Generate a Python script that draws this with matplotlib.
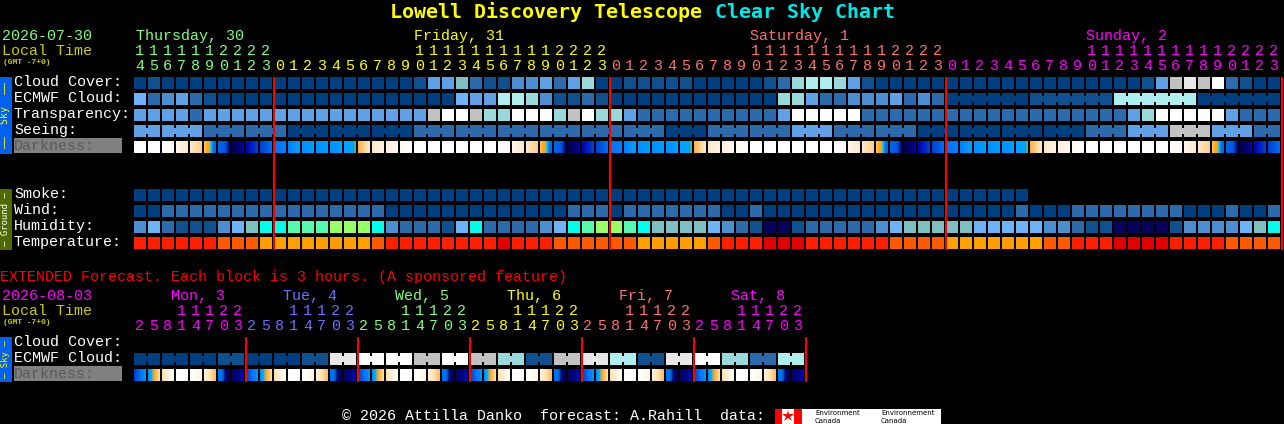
import numpy as np
import matplotlib
matplotlib.use('Agg')
import matplotlib.pyplot as plt
from matplotlib.colors import to_rgb

MONO = 'Liberation Mono'
BOLD = 'DejaVu Sans Mono'

# block codes per hour, one letter per block
cloud_cover = list("abaaaaaaaa" "aaaaaaaaaa" "beegcbbdde" "cehaabbbbb" "aaaaabchii"
                   "hebaaaaaaa" "aaaaaaaaaa" "aabejkjlcbaa")
ecmwf_cloud = list("fcdecbaaaa" "aaaaaaaaaa" "aaafeeiihd" "bbcbaaaaaa" "aaaaaahhec"
                   "cdddecdcaa" "aaaabbbbbb" "iiiiiiaaaaaa")
transparency = list("eeeeceeeee" "eeeeeeeeee" "ejlljhhlll" "hjlhhecccc" "ccccccelll"
                    "llcccccccc" "cccccccccc" "cehllllleccc")
seeing = list("eeeeeccccc" "caaaaaaaaa" "cccccccccc" "ccccccccaa" "acccccceee"
              "ccccccaaaa" "aaaaaaaacc" "ceeejjjeeecc")
darkness = list("WWxyzTBNDE" "FGHHHSYuvw" "WWWWWWxyzT" "BNDEFGHHHS" "YuvwWWWWWW"
                "xyzTBNDEFG" "HHHSYuvwWW" "WWWWxyzTBNDE")
smoke = list("aaaaaaaaaa" "aaaaaaaaaa" "aaaaaaaaaa" "aaaaaaaaaa" "aaaaaaaaaa"
             "aaaaaaaaaa" "aaaa")
wind = list("aacccccccc" "ccccccccaa" "aaaaaaaaaa" "acccaccccc" "ccaacaaaaa"
            "aaaaaaaaaa" "aaacaaaccc" "cccccaaacaac")
humidity = list("dfcbbbdfgp" "pqqqrrrpdc" "ccbfpccccd" "fpqrrqpggg" "gfdcbnnbcc"
                "cccdfggggg" "fffffddcbb" "nnnnbddddfgp")
temperature = list("ssssssuuuv" "vvvvvvvuss" "sssssstsss" "uuuuuuvvvv" "vussstttss"
                   "ssssuuuuvv" "vvvvvuusss" "ttttssssuuuu")

# extended forecast, 3 hour blocks
ext_ecmwf = list("aaabaabkllj" "ljhbjkibklhci")
ext_darkness = list("PQRWXZUV" "PQRWXZUV" "PQRWXZUV" "PQRWXZUV" "PQRWXZUV" "PQRWXZUV")

hour_ones = list("4567890123" "012345678901234567890123" "012345678901234567890123"
                 "012345678901234567890123")
hour_tens = list("1111112222" "          " "11111111112222" "          "
                 "11111111112222" "          " "11111111112222")
ext_hour_ones = list("25814703" * 6)
ext_hour_tens = list("   11122" * 6)

day_labels = ['Thursday, 30', 'Friday, 31', 'Saturday, 1', 'Sunday, 2']
day_starts = [0, 20, 44, 68]
day_ends = [10, 34, 58, 82]
day_colors = ['#80ff80', '#ffff00', '#ff7070', '#ff00ff']
ext_day_labels = ['Mon, 3', 'Tue, 4', 'Wed, 5', 'Thu, 6', 'Fri, 7', 'Sat, 8']
ext_day_colors = ['#ff00ff', '#7070ff', '#80ff80', '#ffff00', '#ff7070', '#ff00ff']

colors = {'a': '#003f7f', 'b': '#11508f', 'c': '#2c6aab', 'd': '#4d8ed0', 'e': '#60a0e4',
          'f': '#70b2f6', 'g': '#7fbfbf', 'h': '#99d9d9', 'i': '#aeeeee', 'j': '#c2c2c2',
          'k': '#e8e8e8', 'l': '#ffffff', 'n': '#07005c', 'p': '#00ffe8', 'q': '#55fab0',
          'r': '#99ff66', 's': '#ff2000', 't': '#e00000', 'u': '#ff5a00', 'v': '#ffa000'}

dark_stops = {'W': ['#ffffff', '#ffffff'],
              'x': ['#ffffff', '#fff6ea'],
              'y': ['#fff6ea', '#fde9cc'],
              'z': ['#fde9cc', '#ffd08a'],
              'T': ['#ffc060', '#ffa818', '#ffa818', '#00c8ff', '#0070f0', '#0068ea'],
              'B': ['#0060e8', '#0060e8', '#0050d0', '#000090'],
              'N': ['#000060', '#000060', '#0000a0'],
              'D': ['#0000b0', '#0040d0'],
              'E': ['#0040d0', '#0070f0'],
              'F': ['#0070f0', '#0080ff'],
              'G': ['#0080ff', '#00a0ff'],
              'H': ['#0090ff', '#00a0ff'],
              'S': ['#00a0ff', '#00a0ff', '#00a0ff', '#00a0ff', '#00a0ff', '#70b050'],
              'Y': ['#ffb040', '#ffd090', '#fde9cc'],
              'u': ['#fde9cc', '#fff0dc'],
              'v': ['#fff0dc', '#fff8f0'],
              'w': ['#fff8f0', '#ffffff'],
              'P': ['#0040d0', '#0070f0', '#0090ff'],
              'Q': ['#0090ff', '#00a8ff', '#ffa818', '#ffc060', '#ffe0b0'],
              'R': ['#ffe0b0', '#fff0e0', '#ffffff'],
              'X': ['#ffffff', '#fff6ea'],
              'Z': ['#fff0dc', '#ffe0b0', '#ffb860'],
              'U': ['#0070f0', '#0070f0', '#000070', '#000060'],
              'V': ['#000060', '#000080', '#0000c0']}

X0 = 134
STEP = 14
CELL = 12
PX = 0.72  # points per pixel at dpi 100

fig = plt.figure(figsize=(12.84, 4.24), dpi=100, facecolor='black')
ax = fig.add_axes([0, 0, 1, 1])
ax.set_facecolor('black')
ax.axis('off')


def txt(x, y, s, color='white', px=15, ha='left', family=MONO, **kw):
    # y is the text baseline
    ax.text(x, y, s, color=color, fontsize=px * PX, family=family, ha=ha, va='baseline', **kw)


def cell_row(codes, top):
    xs = X0 + STEP * np.arange(len(codes))
    ax.bar(xs, CELL, width=CELL, bottom=top, align='edge', linewidth=0, antialiased=False,
           color=[colors[c] for c in codes])


def bridges(codes, top, starts, size):
    # blocks of a forecast period are joined by a narrow bar
    for s in starts:
        for i in range(max(s, 0), min(s + size - 1, len(codes) - 1)):
            ax.bar(X0 + STEP * i + CELL, 6, width=STEP - CELL, bottom=top + 3, align='edge',
                   linewidth=0, antialiased=False, color=colors[codes[i]])


def dark_row(codes, top):
    for i, c in enumerate(codes):
        rgb = np.array([to_rgb(v) for v in dark_stops[c]])
        pos = np.linspace(0, 1, len(rgb))
        t = np.linspace(0, 1, CELL)
        img = np.stack([np.interp(t, pos, rgb[:, k]) for k in range(3)], axis=1)[None, :, :]
        left = X0 + STEP * i
        ax.imshow(img, extent=(left, left + CELL, top + CELL, top), aspect='auto',
                  interpolation='nearest')


def side_bar(top, bottom, color, label, text_color, px=10):
    ax.bar(0, bottom - top, width=12, bottom=top, align='edge', linewidth=0, color=color)
    ax.text(5.5, (top + bottom) / 2, label, color=text_color, fontsize=px * PX, family=BOLD,
            ha='center', va='center', rotation=90)


def red_lines(cells, top, bottom):
    ax.bar(X0 + STEP * np.asarray(cells) - 1, bottom - top, width=2, bottom=top, align='edge',
           linewidth=0, antialiased=False, color='#ff0000', zorder=5)


# header
txt(390, 18, 'Lowell Discovery Telescope', color='#ffff00', px=20, family=BOLD, fontweight='bold')
txt(715, 18, 'Clear Sky Chart', color='#00e8e8', px=20, family=BOLD, fontweight='bold')

txt(2, 40, '2026-07-30', color='#80ff80')
txt(2, 55, 'Local Time', color='#cccc00')
txt(3, 64, '(GMT -7+0)', color='#cccc00', px=8, fontweight='bold')

for label, start, col in zip(day_labels, day_starts, day_colors):
    txt(X0 + STEP * start if start else 136, 40, label, color=col)

for start, end, col in zip(day_starts, day_ends, day_colors):
    first = 0 if start == 0 else start - 10
    for i in range(first, end):
        txt(X0 + STEP * i + 5.5, 70, hour_ones[i], color=col, ha='center')
        if hour_tens[i] != ' ':
            txt(X0 + STEP * i + 5.5, 55, hour_tens[i], color=col, ha='center')

# sky and ground blocks
sky_rows = [('Cloud Cover:', cloud_cover, 77), ('ECMWF Cloud:', ecmwf_cloud, 93),
            ('Transparency:', transparency, 109), ('Seeing:', seeing, 125)]
ground_rows = [('Smoke:', smoke, 189), ('Wind:', wind, 205),
               ('Humidity:', humidity, 221), ('Temperature:', temperature, 237)]
for label, codes, top in sky_rows + ground_rows:
    txt(14, top + 9, label)
    cell_row(codes, top)

bridges(seeing, 125, range(-1, 82, 3), 3)
bridges(ecmwf_cloud, 93, range(58, 82, 6), 6)
dark_row(darkness, 141)

ax.bar(14, 15, width=108, bottom=138, align='edge', linewidth=0, color='#808080')
txt(14, 150, 'Darkness:', color='#5a5a5a')

side_bar(77, 154, '#0060f0', '\u2013\u2013  Sky  \u2013\u2013', '#ffff00')
side_bar(189, 250, '#4f6b00', '\u2013 Ground \u2013', '#ffffff', px=9)

red_lines(day_ends, 77, 250)

# extended forecast
txt(0, 281, 'EXTENDED Forecast. Each block is 3 hours. (A sponsored feature)', color='#ff0000')
txt(2, 300, '2026-08-03', color='#ff00ff')
txt(2, 315, 'Local Time', color='#cccc00')
txt(3, 324.5, '(GMT -7+0)', color='#cccc00', px=8, fontweight='bold')

for d, (label, col) in enumerate(zip(ext_day_labels, ext_day_colors)):
    txt(171 + 112 * d, 300, label, color=col)
    for i in range(d * 8, d * 8 + 8):
        txt(X0 + STEP * i + 5.5, 330, ext_hour_ones[i], color=col, ha='center')
        if ext_hour_tens[i] != ' ':
            txt(X0 + STEP * i + 5.5, 315, ext_hour_tens[i], color=col, ha='center')

txt(14, 346, 'Cloud Cover:')
txt(14, 362, 'ECMWF Cloud:')
ax.bar(14, 15, width=108, bottom=366, align='edge', linewidth=0, color='#808080')
txt(14, 378, 'Darkness:', color='#5a5a5a')
side_bar(337, 382, '#0060f0', '\u2013 Sky \u2013', '#ffff00', px=9)

# each extended ECMWF value covers two blocks
ext_cells = [c for c in ext_ecmwf for _ in range(2)]
cell_row(ext_cells, 353)
bridges(ext_cells, 353, range(0, 48, 2), 2)
dark_row(ext_darkness, 369)
red_lines(np.arange(8, 49, 8), 337, 382)

# footer and logo
txt(342, 420, '\u00a9 2026 Attilla Danko  forecast: A.Rahill  data:')
ax.bar(775, 15, width=166, bottom=409, align='edge', linewidth=0, color='white')
ax.bar([775, 794], 15, width=[7, 8], bottom=409, align='edge', linewidth=0, color='#ff0000')
ax.plot([788], [416], marker='*', markersize=9, color='#ff0000', markeredgewidth=0)
for x, word in [(815, 'Environment'), (881, 'Environnement')]:
    ax.text(x, 415, word, color='black', fontsize=7 * PX, family='DejaVu Sans', ha='left', va='baseline')
    ax.text(x, 423, 'Canada', color='black', fontsize=7 * PX, family='DejaVu Sans', ha='left', va='baseline')

ax.set_xlim(0, 1284)
ax.set_ylim(424, 0)
fig.savefig('out.png', dpi=100, facecolor='black')
